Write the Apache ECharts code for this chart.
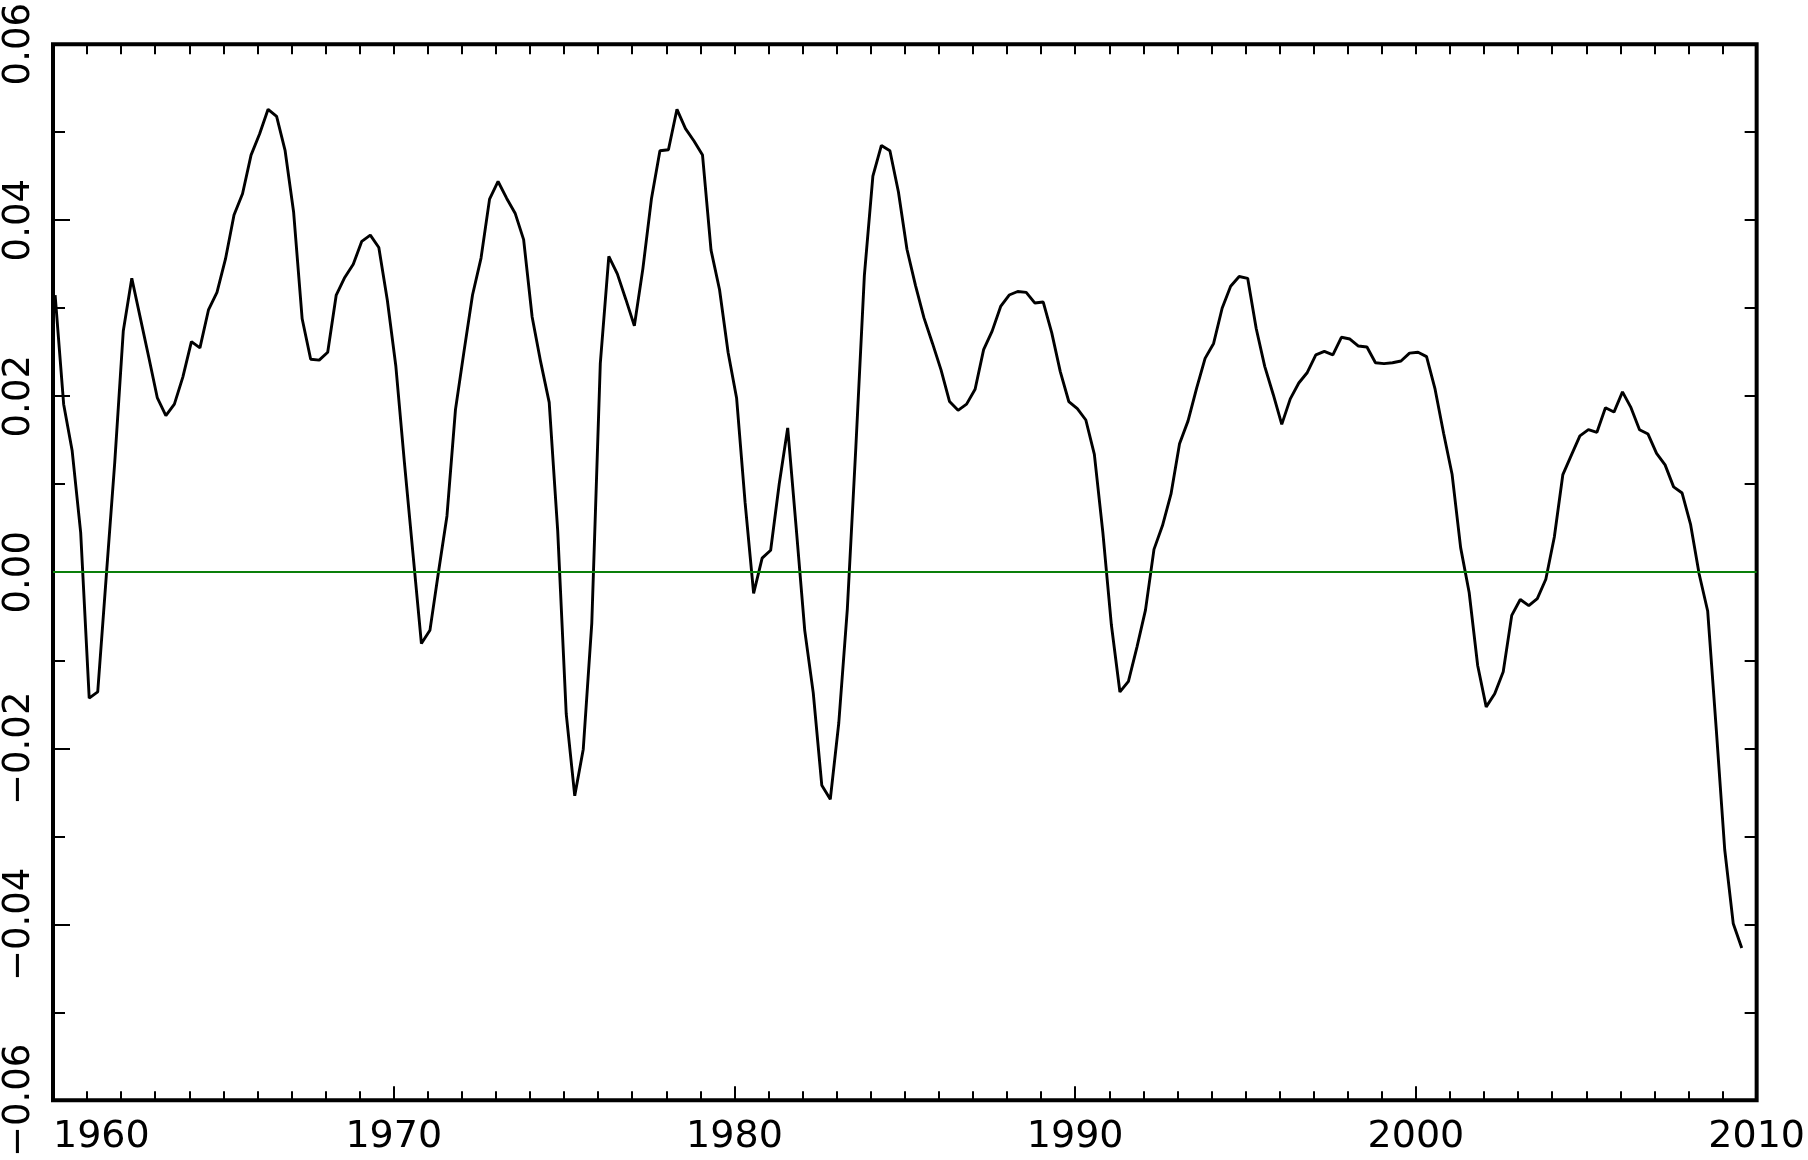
<!DOCTYPE html>
<html>
<head>
<meta charset="utf-8">
<script src="https://cdn.jsdelivr.net/npm/echarts@6/dist/echarts.min.js"></script>
<style>
html,body{margin:0;padding:0;background:#fff;}
#chart{width:1808px;height:1160px;}
</style>
</head>
<body>
<div id="chart"></div>
<script>
// Quarterly series: first sample time and step (years)
const YEAR_START = 1960.0625;
const YEAR_STEP = 0.25;

const VALUES = [
  0.0315, 0.0191, 0.0138, 0.0045, -0.0143, -0.0136, -0.0005, 0.0125, 0.0274, 0.0334,
  0.0289, 0.0244, 0.0198, 0.0178, 0.0191, 0.0222, 0.0262, 0.0255, 0.0298, 0.0318,
  0.0356, 0.0406, 0.0430, 0.0474, 0.0498, 0.0526, 0.0518, 0.0479, 0.0409, 0.0288,
  0.0242, 0.0241, 0.0250, 0.0315, 0.0335, 0.0350, 0.0376, 0.0383, 0.0369, 0.0309,
  0.0234, 0.0125, 0.0022, -0.0081, -0.0066, 0.0000, 0.0064, 0.0185, 0.0251, 0.0315,
  0.0357, 0.0424, 0.0444, 0.0425, 0.0408, 0.0378, 0.0290, 0.0239, 0.0193, 0.0047,
  -0.0161, -0.0254, -0.0201, -0.0058, 0.0237, 0.0359, 0.0339, 0.0310, 0.0280, 0.0345,
  0.0424, 0.0479, 0.0480, 0.0526, 0.0504, 0.0490, 0.0474, 0.0366, 0.0321, 0.0250,
  0.0198, 0.0079, -0.0024, 0.0016, 0.0025, 0.0100, 0.0164, 0.0050, -0.0066, -0.0137,
  -0.0242, -0.0258, -0.0171, -0.0042, 0.0142, 0.0337, 0.0450, 0.0485, 0.0479, 0.0432,
  0.0367, 0.0326, 0.0289, 0.0260, 0.0230, 0.0194, 0.0184, 0.0191, 0.0208, 0.0253,
  0.0274, 0.0302, 0.0315, 0.0319, 0.0318, 0.0306, 0.0307, 0.0272, 0.0228, 0.0194,
  0.0186, 0.0173, 0.0134, 0.0045, -0.0060, -0.0136, -0.0124, -0.0085, -0.0043, 0.0026,
  0.0053, 0.0089, 0.0146, 0.0172, 0.0209, 0.0243, 0.0260, 0.0300, 0.0325, 0.0336,
  0.0334, 0.0277, 0.0234, 0.0202, 0.0168, 0.0197, 0.0215, 0.0227, 0.0247, 0.0251,
  0.0247, 0.0267, 0.0265, 0.0257, 0.0256, 0.0238, 0.0237, 0.0238, 0.0240, 0.0249,
  0.0250, 0.0245, 0.0208, 0.0158, 0.0111, 0.0028, -0.0023, -0.0106, -0.0153, -0.0138,
  -0.0113, -0.0049, -0.0031, -0.0038, -0.0030, -0.0008, 0.0040, 0.0111, 0.0133, 0.0155,
  0.0162, 0.0159, 0.0187, 0.0182, 0.0205, 0.0187, 0.0162, 0.0157, 0.0135, 0.0122,
  0.0097, 0.0090, 0.0054, -0.0002, -0.0044, -0.0177, -0.0315, -0.0399, -0.0427
];

const X_MIN = 1960, X_MAX = 2010, X_MAJOR = 10;
const Y_MIN = -0.06, Y_MAX = 0.06, Y_MAJOR = 0.02;
const ZERO_LEVEL = 0;

const seriesData = VALUES.map((v, i) => [YEAR_START + i * YEAR_STEP, v]);

const FONT = 'DejaVu Sans';
function fmtY(v) {
  if (Math.abs(v) < 1e-9) return '0.00';
  return (v < 0 ? '\u2212' : '') + Math.abs(v).toFixed(2);
}

const chart = echarts.init(document.getElementById('chart'), null, {renderer: 'canvas'});
chart.setOption({
  animation: false,
  backgroundColor: '#ffffff',
  grid: {
    left: 53, right: 51, top: 43, bottom: 57,
    show: true, borderColor: '#000', borderWidth: 4, backgroundColor: 'transparent'
  },
  xAxis: [
    {
      type: 'value', position: 'bottom', min: X_MIN, max: X_MAX, interval: X_MAJOR,
      axisLine: {show: false, onZero: false},
      axisTick: {show: true, inside: true, length: 14, lineStyle: {color: '#000', width: 2}},
      minorTick: {show: true, splitNumber: 10, length: 9, lineStyle: {color: '#000', width: 2}},
      splitLine: {show: false}, minorSplitLine: {show: false},
      axisLabel: {
        show: true, margin: 18, color: '#000', fontFamily: FONT, fontSize: 38,
        alignMinLabel: 'left', formatter: v => String(Math.round(v))
      }
    },
    {
      type: 'value', position: 'top', min: X_MIN, max: X_MAX, interval: 1,
      axisLine: {show: false, onZero: false},
      axisTick: {show: true, inside: true, length: 10, lineStyle: {color: '#000', width: 2}},
      splitLine: {show: false},
      axisLabel: {show: false}
    }
  ],
  yAxis: [
    {
      type: 'value', position: 'left', min: Y_MIN, max: Y_MAX, interval: Y_MAJOR,
      axisLine: {show: false, onZero: false},
      axisTick: {show: true, inside: true, length: 17, lineStyle: {color: '#000', width: 2}},
      minorTick: {show: true, splitNumber: 2, length: 12, lineStyle: {color: '#000', width: 2}},
      splitLine: {show: false}, minorSplitLine: {show: false},
      axisLabel: {
        show: true, rotate: 90, margin: 15, color: '#000', fontFamily: FONT, fontSize: 37,
        formatter: fmtY
      }
    },
    {
      type: 'value', position: 'right', min: Y_MIN, max: Y_MAX, interval: 0.01,
      axisLine: {show: false, onZero: false},
      axisTick: {show: true, inside: true, length: 12, lineStyle: {color: '#000', width: 2}},
      splitLine: {show: false},
      axisLabel: {show: false}
    }
  ],
  series: [
    {
      type: 'line', xAxisIndex: 0, yAxisIndex: 0, data: [], z: 1, silent: true,
      markLine: {
        silent: true, symbol: 'none', animation: false,
        label: {show: false},
        lineStyle: {color: '#0a7f0a', width: 2, type: 'solid'},
        data: [{yAxis: ZERO_LEVEL}]
      }
    },
    {
      type: 'line', xAxisIndex: 0, yAxisIndex: 0, data: seriesData, z: 3,
      showSymbol: false, symbol: 'none', smooth: false,
      lineStyle: {color: '#000', width: 2.9}
    }
  ]
});
</script>
</body>
</html>
